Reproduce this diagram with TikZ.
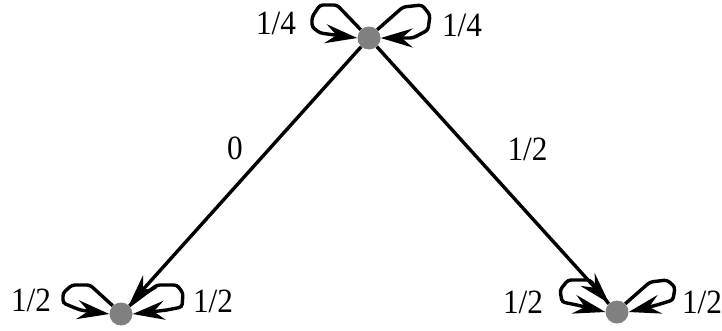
\documentclass[tikz,border=0pt]{standalone}
\usepackage{fontspec}
\setmainfont{Liberation Serif}
\usetikzlibrary{arrows.meta}
\newcommand{\lbltxt}[1]{\scalebox{0.92}[1]{#1}}
\begin{document}
\begin{tikzpicture}[x=1pt,y=-1pt,
  vert/.style={circle,fill={rgb,255:red,128;green,128;blue,128},minimum size=23pt,inner sep=0pt},
  conn/.style={line width=3.4pt,-{Stealth[length=32pt,width=19pt,inset=11pt]}},
  lp/.style={conn,rounded corners=3pt},
  lbl/.style={font=\fontsize{34}{34}\selectfont,inner sep=0pt}]
\useasboundingbox (0,0) rectangle (722,330);
\node[vert] (t) at (369,38) {};
\node[vert] (a) at (121,314) {};
\node[vert] (b) at (617,312) {};
\draw[conn] (t) -- (a);
\draw[conn] (t) -- (b);
\draw[lp] (t.north west) -- (337,5) -- (320,5) -- (312,17) -- (312,27) -- (320,33) -- (t.west);
\draw[lp] (t.north east) -- (403,7) -- (422,5) -- (430,15) -- (428,30) -- (413,38) -- (t.east);
\draw[lp] (a.north west) -- (90,285) -- (72,285) -- (63,293) -- (63,303) -- (80,310) -- (a.west);
\draw[lp] (a.north east) -- (157,285) -- (177,285) -- (183,293) -- (182,307) -- (167,310) -- (a.east);
\draw[lp] (b.north west) -- (590,280) -- (568,280) -- (560,290) -- (562,302) -- (577,305) -- (b.west);
\draw[lp] (b.north east) -- (650,282) -- (667,280) -- (675,287) -- (673,300) -- (657,305) -- (b.east);
\node[lbl] (tl) at (276,23.5) {\lbltxt{1/4}};
\node[lbl] (tr) at (462,25) {\lbltxt{1/4}};
\node[lbl] (al) at (31,300.5) {\lbltxt{1/2}};
\node[lbl] (ar) at (213,301) {\lbltxt{1/2}};
\node[lbl] (bl) at (523,302) {\lbltxt{1/2}};
\node[lbl] (br) at (702,302) {\lbltxt{1/2}};
\node[lbl] (e1) at (235,148.5) {\lbltxt{0}};
\node[lbl] (e2) at (527.5,149.5) {\lbltxt{1/2}};
\end{tikzpicture}
\end{document}
